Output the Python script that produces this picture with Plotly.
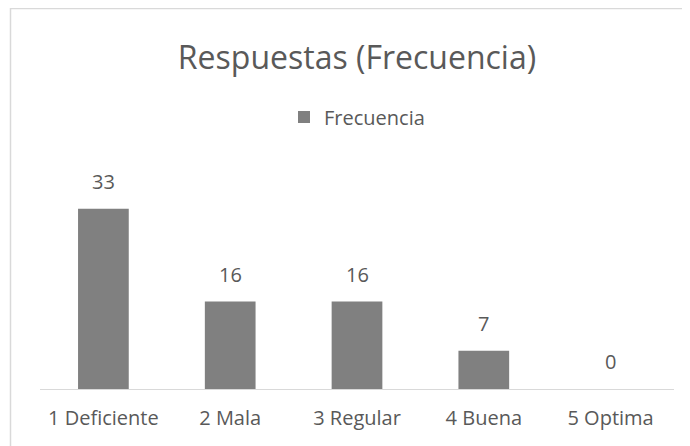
import plotly.graph_objects as go

categories = ['1 Deficiente', '2 Mala', '3 Regular', '4 Buena', '5 Optima']
frecuencia = [33, 16, 16, 7, 0]

TEXT = '#595959'
BAR = '#808080'
LINE = '#d9d9d9'
FONT = 'Open Sans, Lato, sans-serif'

# the page puts the figure 8px in from the top-left corner
OFF = 8
W, H = 690 - OFF, 446 - OFF
PL, PR, PT, PB = 40, 674, 160, 389   # plot area in page pixels
PW, PH = PR - PL, PB - PT

fig = go.Figure()
fig.add_trace(go.Bar(
    x=categories,
    y=frecuencia,
    name='Frecuencia',
    marker=dict(color=BAR, line=dict(width=0)),
    showlegend=True,
))

# value labels sit well above the bars
for cat, val in zip(categories, frecuencia):
    fig.add_annotation(
        x=cat, y=val, text=str(val), showarrow=False,
        yanchor='bottom', yshift=12,
        font=dict(family=FONT, size=20, color=TEXT),
    )

fig.update_layout(
    width=W,
    height=H,
    margin=dict(l=PL - OFF, r=W - (PR - OFF), t=PT - OFF, b=H - (PB - OFF)),
    paper_bgcolor='white',
    plot_bgcolor='white',
    font=dict(family=FONT, color=TEXT),
    bargap=0.6,
    title=dict(
        text='Respuestas (Frecuencia)',
        x=(357 - OFF) / W, xanchor='center',
        y=1 - (58 - OFF) / H, yref='container', yanchor='middle',
        font=dict(family=FONT, size=32, color=TEXT),
    ),
    legend=dict(
        orientation='h',
        x=(357 - PL) / PW, xanchor='center',
        y=(PB - 117) / PH, yanchor='middle',
        font=dict(family=FONT, size=20, color=TEXT),
        itemwidth=30,
    ),
    xaxis=dict(
        showline=True, linecolor=LINE, linewidth=1,
        ticks='', showgrid=False, zeroline=False,
        tickfont=dict(family=FONT, size=20, color=TEXT),
        ticklabelstandoff=11,
    ),
    yaxis=dict(visible=False, range=[0, 41.9]),
)

# chart-area border like the spreadsheet frame
fig.add_shape(
    type='rect', xref='paper', yref='paper',
    x0=(10.5 - PL) / PW, x1=(720 - PL) / PW,
    y0=(PB - 470) / PH, y1=(PB - 8.5) / PH,
    line=dict(color=LINE, width=1.5), fillcolor='rgba(0,0,0,0)',
    layer='below',
)

fig.write_html('out.html')
